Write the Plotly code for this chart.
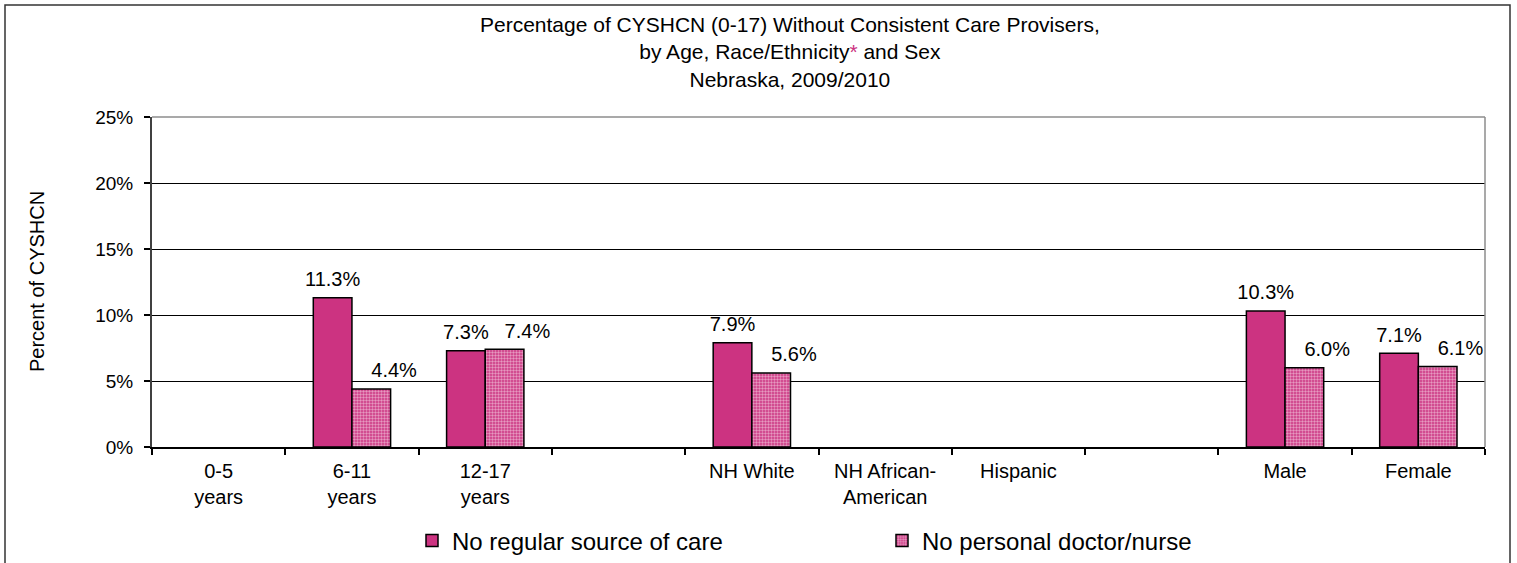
import plotly.graph_objects as go

# ---------------- data ----------------
categories = ["0-5<br>years", "6-11<br>years", "12-17<br>years", " ",
              "NH White", "NH African-<br>American", "Hispanic", "  ",
              "Male", "Female"]
no_regular_source = [None, 11.3, 7.3, None, 7.9, None, None, None, 10.3, 7.1]
no_personal_doctor = [None, 4.4, 7.4, None, 5.6, None, None, None, 6.0, 6.1]
series_names = ["No regular source of care", "No personal doctor/nurse"]
y_ticks = [0, 5, 10, 15, 20, 25]

# ---------------- style ----------------
W, H = 1517, 563
L, R, T, B = 152, 32, 117, 116
PW, PH = W - L - R, H - T - B
MAG = "#CC3381"
FONT = "Liberation Sans, Arial, sans-serif"
Y_MAX = 25
LABEL_LIFT = 0.5  # label offset above bar, in axis units


def px_x(x):
    return (x - L) / PW


def px_y(y):
    return (H - B - y) / PH


def lab(vals):
    return ["" if v is None else f"{v:.1f}%" for v in vals]


fig = go.Figure()
fig.add_trace(go.Bar(
    x=categories, y=no_regular_source, name=series_names[0],
    offsetgroup="a", marker=dict(color=MAG, line=dict(color="black", width=1.5)),
))
fig.add_trace(go.Bar(
    x=categories, y=no_personal_doctor, name=series_names[1],
    offsetgroup="b",
    marker=dict(color=MAG, line=dict(color="black", width=1.5),
                pattern=dict(shape=".", fgcolor="white", size=3, solidity=0.5)),
))
# data labels (on an overlaid axis shifted slightly so labels sit a little above the bars)
fig.add_trace(go.Scatter(
    x=categories, y=no_regular_source, text=lab(no_regular_source), mode="text",
    offsetgroup="a", textposition="top center", showlegend=False, hoverinfo="skip",
    textfont=dict(size=20, color="black", family=FONT), cliponaxis=False, yaxis="y2",
))
fig.add_trace(go.Scatter(
    x=categories, y=no_personal_doctor, text=lab(no_personal_doctor), mode="text",
    offsetgroup="b", textposition="top right", showlegend=False, hoverinfo="skip",
    textfont=dict(size=20, color="black", family=FONT), cliponaxis=False, yaxis="y2",
))

title_text = ("Percentage of CYSHCN (0-17) Without Consistent Care Provisers,<br>"
              f"by Age, Race/Ethnicity<span style='color:{MAG}'>*</span> and Sex<br>"
              "Nebraska, 2009/2010")
annotations = [
    dict(text=title_text, xref="paper", yref="paper", x=px_x(790), y=px_y(52),
         xanchor="center", yanchor="middle", showarrow=False, align="center",
         font=dict(size=21, color="black", family=FONT)),
    dict(text="Percent of CYSHCN", xref="paper", yref="paper",
         x=px_x(37), y=0.5, textangle=-90, xanchor="center", yanchor="middle",
         showarrow=False, font=dict(size=20, color="black", family=FONT)),
]

shapes = [
    # outer chart border
    dict(type="rect", xref="paper", yref="paper", x0=px_x(5), x1=px_x(1510),
         y0=px_y(700), y1=px_y(5), line=dict(color="#333333", width=1.5), layer="below"),
    # plot-area border top and right (gray)
    dict(type="line", xref="paper", yref="paper", x0=0, x1=1, y0=1, y1=1,
         line=dict(color="#8c8c8c", width=1.5), layer="above"),
    dict(type="line", xref="paper", yref="paper", x0=1, x1=1, y0=0, y1=1,
         line=dict(color="#8c8c8c", width=1.5), layer="above"),
]

fig.update_layout(
    width=W, height=H, autosize=False,
    margin=dict(l=L, r=R, t=T, b=B, pad=0, autoexpand=False),
    paper_bgcolor="white", plot_bgcolor="white",
    font=dict(family=FONT, color="black", size=19),
    barmode="group", bargap=0.42, bargroupgap=0,
    scattermode="group", scattergap=0.42,
    showlegend=True,
    legend=dict(orientation="h", x=px_x(412), y=px_y(541), xanchor="left", yanchor="middle",
                font=dict(size=24, family=FONT, color="black"),
                entrywidth=425, entrywidthmode="pixels", traceorder="normal",
                bgcolor="rgba(0,0,0,0)"),
    annotations=annotations, shapes=shapes,
    yaxis2=dict(overlaying="y", range=[-LABEL_LIFT, Y_MAX - LABEL_LIFT], visible=False),
)
fig.update_xaxes(
    type="category", categoryorder="array", categoryarray=categories,
    showline=True, linecolor="black", linewidth=1.5,
    ticks="outside", tickson="boundaries", ticklen=6, tickcolor="black", tickwidth=1.5,
    ticklabelstandoff=5,
    tickfont=dict(size=20, family=FONT, color="black"), showgrid=False, zeroline=False,
)
fig.update_layout(yaxis=dict(
    range=[0, Y_MAX], tickvals=y_ticks, ticktext=[f"{v}%" for v in y_ticks],
    showline=True, linecolor="#404040", linewidth=2,
    ticks="outside", ticklen=6, tickcolor="black", tickwidth=1.5,
    ticklabelstandoff=7,
    tickfont=dict(size=19, family=FONT, color="black"),
    showgrid=True, gridcolor="black", gridwidth=1, zeroline=False,
))

fig.write_html("out.html", config={"displayModeBar": False},
               post_script="document.body.style.margin='0px';")
